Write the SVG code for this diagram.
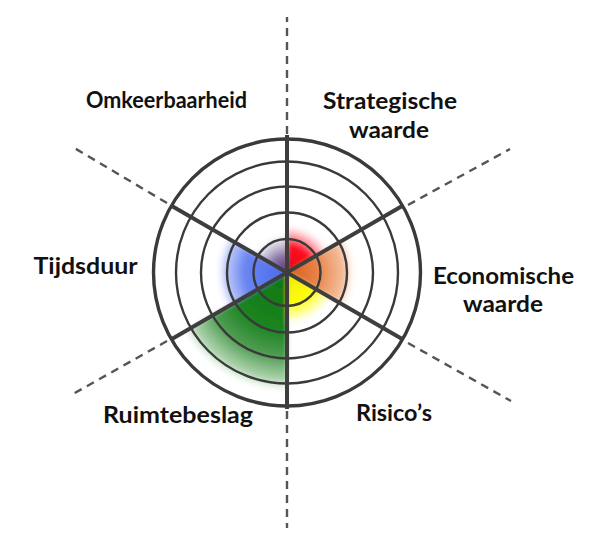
<svg xmlns="http://www.w3.org/2000/svg" width="600" height="550" viewBox="0 0 600 550">
<style>
.ring{fill:none;stroke:#3a3a3a;stroke-width:2.4}
.outer{fill:none;stroke:#3a3a3a;stroke-width:3.4}
.spoke{stroke:#3e3e3e;stroke-width:4;stroke-linecap:butt}
.dash{stroke:#555;stroke-width:2.4;stroke-dasharray:8 6;fill:none}
.lbl{font-family:Lato,"Open Sans","Liberation Sans",sans-serif;font-weight:700;font-size:23px;fill:#111}
</style>
<defs>
<filter id="soft" x="-30%" y="-30%" width="160%" height="160%"><feGaussianBlur stdDeviation="2.2"/></filter>
<radialGradient id="gRed" gradientUnits="userSpaceOnUse" cx="287" cy="272.5" r="48">
<stop offset="0" stop-color="#d8001a"/><stop offset="0.55" stop-color="#ff1020"/><stop offset="0.8" stop-color="#ff7a88" stop-opacity="0.6"/><stop offset="1" stop-color="#ffd0d8" stop-opacity="0"/>
</radialGradient>
<radialGradient id="gOrange" gradientUnits="userSpaceOnUse" cx="287" cy="272.5" r="70">
<stop offset="0" stop-color="#d85a1c"/><stop offset="0.45" stop-color="#e8844a"/><stop offset="0.82" stop-color="#f3b48c" stop-opacity="0.85"/><stop offset="1" stop-color="#fff" stop-opacity="0"/>
</radialGradient>
<radialGradient id="gYellow" gradientUnits="userSpaceOnUse" cx="287" cy="272.5" r="54">
<stop offset="0" stop-color="#f0e800"/><stop offset="0.6" stop-color="#ffff10"/><stop offset="0.82" stop-color="#ffff70" stop-opacity="0.6"/><stop offset="1" stop-color="#fff" stop-opacity="0"/>
</radialGradient>
<radialGradient id="gGreen" gradientUnits="userSpaceOnUse" cx="287" cy="272.5" r="120">
<stop offset="0" stop-color="#0d7510"/><stop offset="0.48" stop-color="#1c8420"/><stop offset="0.7" stop-color="#4f9c52"/><stop offset="0.9" stop-color="#a0cca0" stop-opacity="0.85"/><stop offset="1" stop-color="#e0f0e0" stop-opacity="0"/>
</radialGradient>
<radialGradient id="gBlue" gradientUnits="userSpaceOnUse" cx="287" cy="272.5" r="72">
<stop offset="0" stop-color="#4a68ee"/><stop offset="0.6" stop-color="#6a86f2"/><stop offset="0.86" stop-color="#a8b8f6" stop-opacity="0.75"/><stop offset="1" stop-color="#fff" stop-opacity="0"/>
</radialGradient>
<radialGradient id="gPurple" gradientUnits="userSpaceOnUse" cx="287" cy="272.5" r="40">
<stop offset="0" stop-color="#4a2a6a"/><stop offset="0.45" stop-color="#8a7aa8"/><stop offset="0.8" stop-color="#c8c0d8" stop-opacity="0.6"/><stop offset="1" stop-color="#fff" stop-opacity="0"/>
</radialGradient>
</defs>
<rect width="600" height="550" fill="#fff"/>
<g id="sectors" filter="url(#soft)">
<path id="s-strategisch" d="M287 272.5 L287 224.5 A48 48 0 0 1 328.6 248.5 Z" fill="url(#gRed)"/>
<path id="s-economisch" d="M287 272.5 L347.6 237.5 A70 70 0 0 1 347.6 307.5 Z" fill="url(#gOrange)"/>
<path id="s-risico" d="M287 272.5 L333.8 299.5 A54 54 0 0 1 287 326.5 Z" fill="url(#gYellow)"/>
<path id="s-ruimte" d="M287 272.5 L287 392.5 A120 120 0 0 1 183.1 332.5 Z" fill="url(#gGreen)"/>
<path id="s-tijd" d="M287 272.5 L224.6 308.5 A72 72 0 0 1 224.6 236.5 Z" fill="url(#gBlue)"/>
<path id="s-omkeer" d="M287 272.5 L252.4 252.5 A40 40 0 0 1 287 232.5 Z" fill="url(#gPurple)"/>
</g>
<g id="rings">
<circle class="ring" cx="287" cy="272.5" r="33.5"/>
<circle class="ring" cx="287" cy="272.5" r="60"/>
<circle class="ring" cx="287" cy="272.5" r="86"/>
<circle class="ring" cx="287" cy="272.5" r="111"/>
<circle class="outer" cx="287" cy="272.5" r="133.5"/>
</g>
<g id="connectors">
<line class="spoke" x1="287" y1="135" x2="287" y2="409"/>
<line class="spoke" x1="171.4" y1="205.75" x2="402.6" y2="339.25"/>
<line class="spoke" x1="402.6" y1="205.75" x2="171.4" y2="339.25"/>
<line class="dash" x1="287" y1="134" x2="287" y2="17"/>
<line class="dash" x1="287" y1="411" x2="287" y2="528"/>
<line class="dash" x1="408" y1="205" x2="510" y2="149"/>
<line class="dash" x1="167" y1="203" x2="71" y2="146"/>
<line class="dash" x1="167" y1="341" x2="73" y2="394"/>
<line class="dash" x1="408" y1="343" x2="511" y2="401"/>
</g>
<g id="label-omkeerbaarheid"><text class="lbl" x="86" y="108" textLength="161" lengthAdjust="spacingAndGlyphs">Omkeerbaarheid</text></g>
<g id="label-strategische-waarde">
<text class="lbl" x="323" y="109" textLength="134" lengthAdjust="spacingAndGlyphs">Strategische</text>
<text class="lbl" x="349" y="137.5" textLength="80" lengthAdjust="spacingAndGlyphs">waarde</text>
</g>
<g id="label-economische-waarde">
<text class="lbl" x="433" y="283.5" textLength="141" lengthAdjust="spacingAndGlyphs">Economische</text>
<text class="lbl" x="463" y="311.5" textLength="80" lengthAdjust="spacingAndGlyphs">waarde</text>
</g>
<g id="label-tijdsduur"><text class="lbl" x="33.5" y="273.5" textLength="104" lengthAdjust="spacingAndGlyphs">Tijdsduur</text></g>
<g id="label-ruimtebeslag"><text class="lbl" x="103" y="423" textLength="150" lengthAdjust="spacingAndGlyphs">Ruimtebeslag</text></g>
<g id="label-risicos"><text class="lbl" x="356" y="421" textLength="76" lengthAdjust="spacingAndGlyphs">Risico’s</text></g>
</svg>
